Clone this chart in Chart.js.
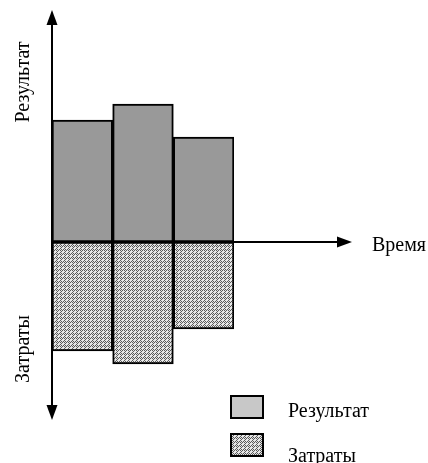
<!DOCTYPE html>
<html lang="ru">
<head>
<meta charset="utf-8">
<title>Результат и затраты во времени</title>
<script src="https://cdn.jsdelivr.net/npm/chart.js@4.4.1/dist/chart.umd.min.js"></script>
<style>
  html, body { margin: 0; padding: 0; background: #fff; }
  #wrap { position: relative; width: 428px; height: 463px; }
</style>
</head>
<body>
<div id="wrap"><canvas id="chart" width="428" height="463"></canvas></div>
<script>
'use strict';

/* ── DATA ── */
const PERIODS   = ['1', '2', '3'];
const RESULTS   = [122, 138, 105];     // above the time axis
const COSTS     = [-109, -122, -87];   // below the time axis
const Y_MIN     = -178;
const Y_MAX     = 232;
const LABELS    = { result: 'Результат', cost: 'Затраты', time: 'Время' };

const FONT = '20px "Liberation Serif", "Times New Roman", serif';

/* ── hatch pattern for costs ── */
function makePattern() {
  const c = document.createElement('canvas');
  c.width = 4; c.height = 4;
  const g = c.getContext('2d');
  g.fillStyle = '#e6e6e6';
  g.fillRect(0, 0, 4, 4);
  g.fillStyle = '#5a5a5a';
  [[0,0],[2,0],[1,1],[3,1],[0,2],[2,2],[1,3],[3,3]].forEach(([x, y], i) => {
    if (i % 2 === 0 || (x + y) % 4 === 0) g.fillRect(x, y, 1, 1);
  });
  return g.createPattern(c, 'repeat');
}
const hatch = makePattern();

function arrowHead(ctx, x, y, dir) {
  // dir: 'up' | 'down' | 'right'
  const L = 15, W = 5.5;
  ctx.beginPath();
  if (dir === 'up')    { ctx.moveTo(x, y); ctx.lineTo(x - W, y + L); ctx.lineTo(x + W, y + L); }
  if (dir === 'down')  { ctx.moveTo(x, y); ctx.lineTo(x - W, y - L); ctx.lineTo(x + W, y - L); }
  if (dir === 'right') { ctx.moveTo(x, y); ctx.lineTo(x - L, y - W); ctx.lineTo(x - L, y + W); }
  ctx.closePath();
  ctx.fill();
}

/* ── axes, captions, legend ── */
const decor = {
  id: 'decor',
  afterDatasetsDraw(chart) {
    const { ctx, chartArea: a, scales: { y } } = chart;
    const x0 = a.left, y0 = y.getPixelForValue(0);
    ctx.save();
    ctx.strokeStyle = '#000';
    ctx.fillStyle = '#000';
    ctx.lineWidth = 2;

    // vertical axis
    ctx.beginPath();
    ctx.moveTo(x0, a.top + 10);
    ctx.lineTo(x0, a.bottom - 10);
    ctx.stroke();
    arrowHead(ctx, x0, a.top, 'up');
    arrowHead(ctx, x0, a.bottom, 'down');

    // time axis
    const xEnd = 352;
    ctx.beginPath();
    ctx.moveTo(x0, y0);
    ctx.lineTo(xEnd - 10, y0);
    ctx.stroke();
    arrowHead(ctx, xEnd, y0, 'right');

    ctx.font = FONT;
    ctx.textBaseline = 'alphabetic';
    ctx.fillText(LABELS.time, 372, y0 + 9);

    // rotated captions
    [[LABELS.result, 82], [LABELS.cost, 349]].forEach(([t, cy]) => {
      ctx.save();
      ctx.translate(29, cy);
      ctx.rotate(-Math.PI / 2);
      ctx.textAlign = 'center';
      ctx.fillText(t, 0, 0);
      ctx.restore();
    });

    // legend
    const items = [
      { fill: '#c8c8c8', text: LABELS.result, by: 396, ty: 417 },
      { fill: hatch,     text: LABELS.cost,   by: 434, ty: 462 },
    ];
    items.forEach(it => {
      ctx.fillStyle = it.fill;
      ctx.fillRect(231, it.by, 32, 22);
      ctx.lineWidth = 2;
      ctx.strokeStyle = '#000';
      ctx.strokeRect(231, it.by, 32, 22);
      ctx.fillStyle = '#000';
      ctx.fillText(it.text, 288, it.ty);
    });
    ctx.restore();
  },
};

new Chart(document.getElementById('chart'), {
  type: 'bar',
  data: {
    labels: PERIODS,
    datasets: [
      {
        label: LABELS.result,
        data: RESULTS,
        backgroundColor: '#999999',
        borderColor: '#000',
        borderWidth: 2,
        borderSkipped: false,
        stack: 's',
        categoryPercentage: 1,
        barPercentage: 1,
      },
      {
        label: LABELS.cost,
        data: COSTS,
        backgroundColor: hatch,
        borderColor: '#000',
        borderWidth: 2,
        borderSkipped: false,
        stack: 's',
        categoryPercentage: 1,
        barPercentage: 1,
      },
    ],
  },
  options: {
    responsive: false,
    animation: false,
    layout: { padding: { left: 52, right: 194, top: 10, bottom: 43 } },
    plugins: { legend: { display: false }, tooltip: { enabled: false } },
    scales: {
      x: { display: false, stacked: true },
      y: { display: false, stacked: true, min: Y_MIN, max: Y_MAX },
    },
  },
  plugins: [decor],
});
</script>
</body>
</html>
